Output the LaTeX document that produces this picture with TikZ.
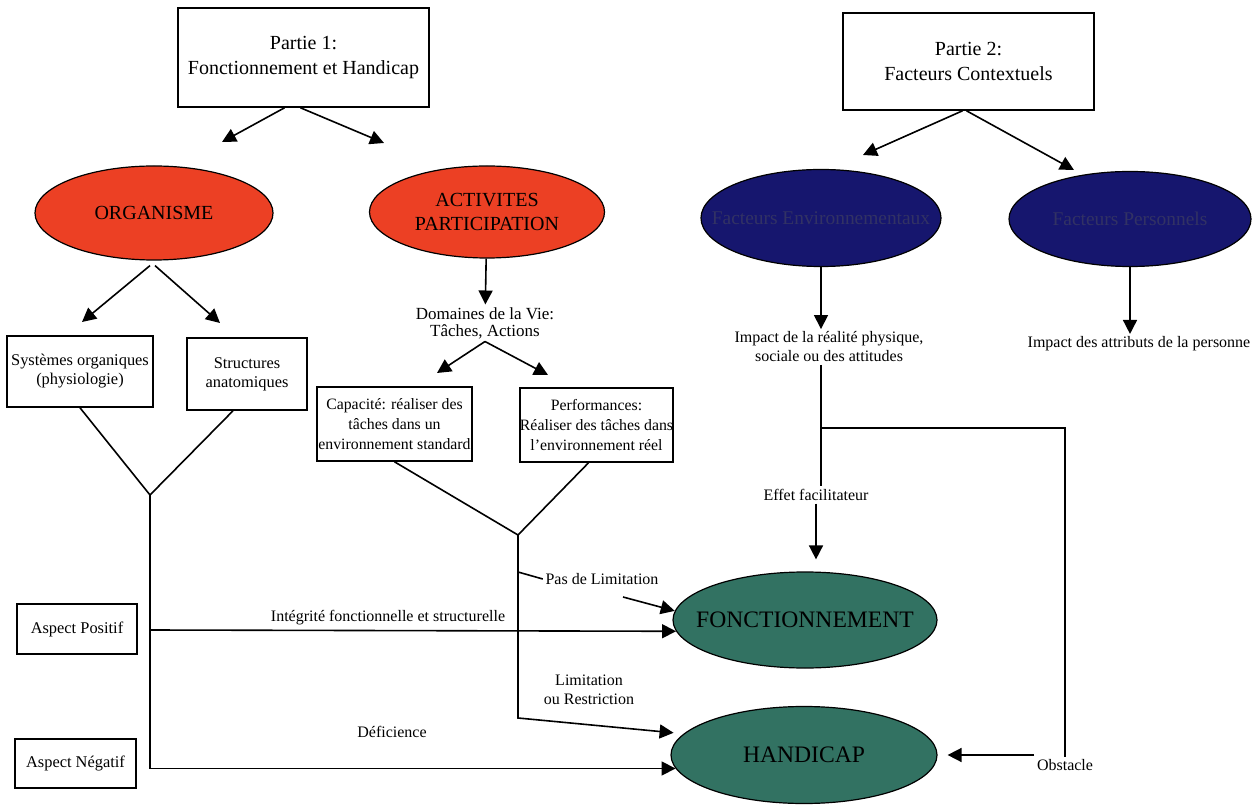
\documentclass[tikz,border=0pt]{standalone}
\usepackage{fontspec}
\setmainfont{Liberation Serif}
\usepackage{tikz}
\usetikzlibrary{arrows.meta, calc, positioning, shapes.geometric}
\definecolor{rouge}{RGB}{236,64,36}
\definecolor{marine}{RGB}{22,22,110}
\definecolor{marinetxt}{RGB}{50,50,100}
\definecolor{vert}{RGB}{50,114,98}

\begin{document}
\begin{tikzpicture}[x=0.5pt,y=-0.5pt,line width=0.8pt]
  \tikzstyle{boite}=[draw,rectangle,inner sep=0pt,align=center,font=\fontsize{8.2}{9.5}\selectfont]
  \tikzstyle{titre}=[boite,font=\fontsize{10}{12.5}\selectfont]
  \tikzstyle{ovale}=[draw,ellipse,line width=0.6pt,inner sep=0pt,align=center]
  \tikzstyle{etiq}=[inner sep=1pt,align=center,font=\fontsize{8}{9.5}\selectfont]
  \tikzstyle{fleche}=[-{Triangle[length=7pt,width=7pt]}]

  \fill[white] (0,0) rectangle (1252,806);
  \useasboundingbox (0,0) rectangle (1252,806);

  \node[titre,minimum width=125.5pt,minimum height=49.5pt] (p1) at (303.5,57.5) {Partie 1:\\Fonctionnement et Handicap};
  \node[titre,minimum width=125.5pt,minimum height=48.5pt] (p2) at (968.5,61.5) {Partie 2:\\Facteurs Contextuels};

  \node[ovale,fill=rouge,minimum width=119pt,minimum height=47pt,font=\fontsize{10}{12}\selectfont]   (org)  at (154,213)  {ORGANISME};
  \node[ovale,fill=rouge,minimum width=117.5pt,minimum height=46pt,font=\fontsize{10}{12}\selectfont] (act)  at (487,212)  {ACTIVITES\\PARTICIPATION};
  \node[ovale,fill=marine,text=marinetxt,minimum width=120pt,minimum height=48.5pt,font=\fontsize{9.7}{12}\selectfont] (env)  at (821,218)  {\makebox[0pt]{Facteurs Environnementaux}};
  \node[ovale,fill=marine,text=marinetxt,minimum width=121pt,minimum height=47.5pt,font=\fontsize{9.7}{12}\selectfont] (pers) at (1130,219) {Facteurs Personnels};

  \node[boite,minimum width=73pt,minimum height=35.5pt]   (sys)  at (80,371.5)  {Systèmes organiques\\(physiologie)};
  \node[boite,minimum width=60pt,minimum height=36pt]     (str)  at (247,374)   {Structures\\anatomiques};
  \node[etiq,font=\fontsize{8.5}{8.5}\selectfont]         (dom)  at (485,323)   {Domaines de la Vie:\\Tâches, Actions};
  \node[boite,minimum width=77.5pt,minimum height=37pt,font=\fontsize{7.9}{10}\selectfont] (cap)  at (394.5,424) {Capacité: réaliser des\\tâches dans un\\environnement standard};
  \node[boite,minimum width=76.5pt,minimum height=37pt,font=\fontsize{7.9}{10}\selectfont] (perf) at (596.5,425) {Performances:\\Réaliser des tâches dans\\l’environnement réel};
  \node[boite,minimum width=60pt,minimum height=25pt]     (pos)  at (77,629)    {Aspect Positif};
  \node[boite,minimum width=60.5pt,minimum height=24.5pt] (neg)  at (75.5,763.5) {Aspect Négatif};

  \node[ovale,fill=vert,minimum width=132pt,minimum height=48pt,font=\fontsize{11.8}{14}\selectfont]   (fonc) at (805,620) {\makebox[0pt]{FONCTIONNEMENT}};
  \node[ovale,fill=vert,minimum width=133pt,minimum height=48.5pt,font=\fontsize{11.8}{14}\selectfont] (hand) at (804,755) {HANDICAP};

  \node[etiq] (integ) at (388,618)  {Intégrité fonctionnelle et structurelle};
  \node[etiq] (defic) at (392,732)  {Déficience};
  \node[etiq] (pas)   at (602,579)  {Pas de Limitation};
  \node[etiq] (limit) at (589,690)  {Limitation\\ou Restriction};
  \node[etiq] (imp)   at (829,347)  {Impact de la réalité physique,\\sociale ou des attitudes};
  \node[etiq] (attr)  at (1139,344) {Impact des attributs de la personne};
  \node[etiq] (eff)   at (816,495)  {Effet facilitateur};
  \node[etiq] (obst)  at (1065,765) {Obstacle};

  \coordinate (t1) at (222,142);
  \coordinate (t2) at (384,143);
  \coordinate (t7) at (863,155);
  \coordinate (t8) at (1074,170);
  \coordinate (t3) at (82,322);
  \coordinate (t4) at (220,323);
  \coordinate (t5) at (437,373);
  \coordinate (t6) at (548,375);
  \coordinate (j1) at (150,495);
  \coordinate (j2) at (150,630);
  \coordinate (j3) at (518,535);
  \coordinate (c3) at (518,718);
  \coordinate (j4) at (518,572);
  \coordinate (p5) at (623,597);
  \coordinate (j5) at (821,428);

  \draw[fleche] ($(p1.south)+(-19,0)$) -- (t1);
  \draw[fleche] ($(p1.south)+(-3,0)$)  -- (t2);
  \draw[fleche] ($(p2.south)+(-6,0)$)  -- (t7);
  \draw[fleche] ($(p2.south)+(-2,0)$)  -- (t8);
  \draw[fleche] ($(org.south)+(-4,5)$) -- (t3);
  \draw[fleche] ($(org.south)+(1,5)$)  -- (t4);
  \draw[fleche] (act) -- (dom);
  \draw[fleche] (dom.south) -- (t5);
  \draw[fleche] (dom.south) -- (t6);

  \draw (sys.south) -- (j1) -- ($(str.south)+(-14,0)$);
  \draw[fleche] (j1) |- (hand.186);
  \draw[fleche] (j2) -- (fonc.185);
  \draw (cap.south) -- (j3) -- ($(perf.south)+(-8,0)$);
  \draw[fleche,shorten >=5pt] (j3) -- (c3) -- (hand.170);
  \draw (j4) -- (pas.west);
  \draw[fleche] (p5) -- (fonc.176);

  \draw[fleche] (env.south) -- (env.south |- imp.north);
  \draw[fleche] (pers.south) -- (pers.south |- attr.north);
  \draw (env.south |- imp.south) -- (env.south |- eff.north);
  \draw (j5) -| (obst.north);
  \draw[fleche,shorten >=6pt] (eff.south) -- (eff.south |- fonc.north);
  \draw[fleche,shorten >=5pt] (obst.west |- hand.east) -- (hand.east);
\end{tikzpicture}
\end{document}
